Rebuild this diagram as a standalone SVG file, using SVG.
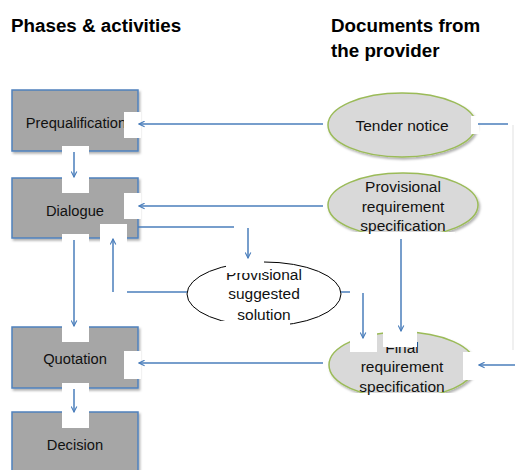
<svg xmlns="http://www.w3.org/2000/svg" width="515" height="470" viewBox="0 0 515 470">
<style>
.box{fill:#a6a6a6;stroke:#4f81bd;stroke-width:1.5}
.doc{fill:#d9d9d9;stroke:#9bbb59;stroke-width:1.5}
.sol{fill:#ffffff;stroke:#000000;stroke-width:1}
.mask{fill:#ffffff}
.t{font-family:"Liberation Sans",Arial,sans-serif;fill:#111;text-anchor:middle}
.bt{font-size:14.7px}
.et{font-size:15.5px}
.h{font-family:"Liberation Sans",Arial,sans-serif;font-weight:bold;font-size:18.8px;fill:#000}
.c{stroke:#4a7ebb;stroke-width:1.5;fill:none}
.ca{stroke:#4a7ebb;stroke-width:1.5;fill:none;marker-end:url(#arr)}
</style>
<defs>
<filter id="sh" x="-10%" y="-10%" width="130%" height="130%">
<feDropShadow dx="1.5" dy="2" stdDeviation="1.2" flood-color="#000" flood-opacity="0.3"/>
</filter>
<marker id="arr" viewBox="0 0 10 10" refX="9" refY="5" markerWidth="7" markerHeight="7" markerUnits="userSpaceOnUse" orient="auto">
<path d="M1,1 L9,5 L1,9" fill="none" stroke="#4a7ebb" stroke-width="1.6"/>
</marker>
</defs>

<text class="h" x="11" y="32">Phases &amp; activities</text>
<text class="h" x="331" y="32">Documents from</text>
<text class="h" x="331" y="57">the provider</text>

<g id="prequalification"><rect class="box" x="12" y="90" width="126" height="61" filter="url(#sh)"/><text class="t bt" x="76" y="128">Prequalification</text></g>
<g id="dialogue"><rect class="box" x="12" y="178" width="126" height="60" filter="url(#sh)"/><text class="t bt" x="75" y="216">Dialogue</text></g>
<g id="quotation"><rect class="box" x="12" y="327" width="126" height="61" filter="url(#sh)"/><text class="t bt" x="75" y="364">Quotation</text></g>
<g id="decision"><rect class="box" x="12" y="412" width="126" height="70" filter="url(#sh)"/><text class="t bt" x="75" y="450">Decision</text></g>

<g id="tender-notice"><ellipse class="doc" cx="402" cy="125" rx="74" ry="32" filter="url(#sh)"/><rect class="mask" x="471" y="116" width="8" height="18"/><text class="t et" x="402" y="131">Tender notice</text></g>
<g id="provisional-requirement"><ellipse class="doc" cx="403" cy="205" rx="75" ry="32" filter="url(#sh)"/><rect class="mask" x="350" y="232" width="105" height="10"/><text class="t et" x="403" y="192">Provisional</text><text class="t et" x="403" y="212">requirement</text><text class="t et" x="403" y="231">specification</text></g>
<g id="provisional-solution"><ellipse class="sol" cx="264" cy="294" rx="77" ry="32"/><rect class="mask" x="218" y="321" width="72" height="10"/><text class="t et" x="264" y="280">Provisional</text><text class="t et" x="264" y="299">suggested</text><text class="t et" x="264" y="320">solution</text></g>
<g id="final-requirement"><ellipse class="doc" cx="402" cy="365" rx="73" ry="33" filter="url(#sh)"/><rect class="mask" x="350" y="393" width="105" height="12"/><rect class="mask" x="463" y="352" width="52" height="28"/><text class="t et" x="402" y="353">Final</text><text class="t et" x="402" y="372">requirement</text><text class="t et" x="402" y="392">specification</text></g>

<g id="masks">
<rect class="mask" x="124" y="112" width="17" height="26"/>
<rect class="mask" x="62" y="146" width="27" height="47"/>
<rect class="mask" x="124" y="193" width="17" height="26"/>
<rect class="mask" x="100" y="224" width="27" height="30"/>
<rect class="mask" x="62" y="234" width="27" height="20"/>
<rect class="mask" x="62" y="318" width="27" height="24"/>
<rect class="mask" x="124" y="351" width="17" height="28"/>
<rect class="mask" x="62" y="383" width="27" height="45"/>
<rect class="mask" x="226" y="255" width="38" height="18"/>
<rect class="mask" x="350" y="330" width="27" height="22"/>
<rect class="mask" x="383" y="326" width="34" height="21"/>
</g>

<g id="connectors">
<line class="ca" x1="323" y1="124" x2="139" y2="124"/>
<line class="ca" x1="74" y1="152" x2="74" y2="177"/>
<line class="ca" x1="323" y1="206" x2="139" y2="206"/>
<line class="c" x1="138" y1="227" x2="234" y2="227"/>
<line class="ca" x1="248" y1="228" x2="248" y2="258"/>
<line class="ca" x1="113" y1="292" x2="113" y2="239"/>
<line class="c" x1="127" y1="292" x2="187" y2="292"/>
<line class="ca" x1="74" y1="240" x2="74" y2="326"/>
<line class="c" x1="341" y1="292" x2="350" y2="292"/>
<line class="ca" x1="363" y1="293" x2="363" y2="338"/>
<line class="ca" x1="401" y1="239" x2="401" y2="331"/>
<line class="ca" x1="323" y1="363" x2="139" y2="363"/>
<line class="ca" x1="74" y1="389" x2="74" y2="412"/>
<line class="c" x1="478" y1="124" x2="508" y2="124"/>
<line x1="513" y1="125" x2="513" y2="350" stroke="#ebebeb" stroke-width="1.5"/>
<line class="ca" x1="515" y1="365" x2="479" y2="365"/>
</g>
</svg>
